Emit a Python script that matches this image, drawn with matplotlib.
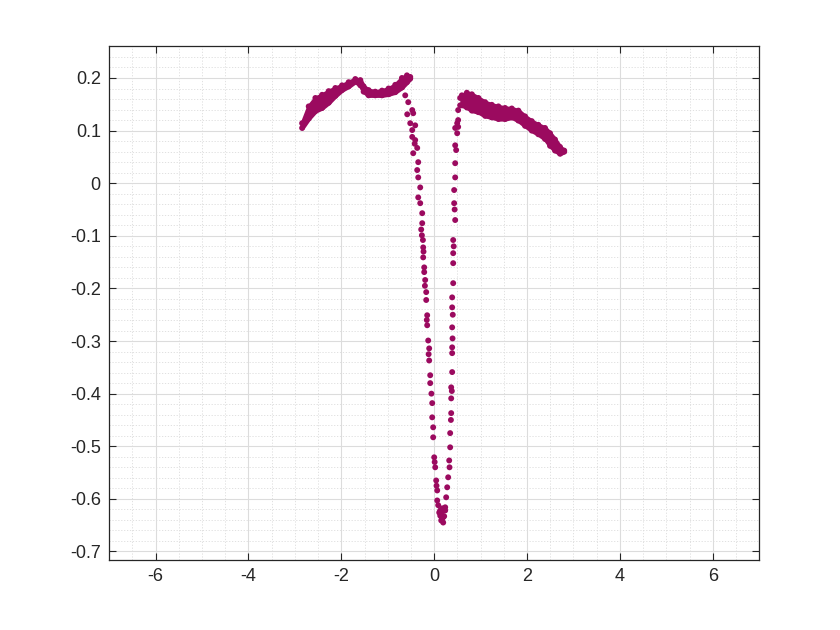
import numpy as np
import matplotlib
matplotlib.use("Agg")
import matplotlib.pyplot as plt
from matplotlib.ticker import MultipleLocator

# ---- data ----
# left dense band (column x, upper row y, lower row y)
left_band_x = [-2.845, -2.703, -2.559, -2.415, -2.273, -2.129, -1.985, -1.843, -1.699,
               -1.591, -1.520, -1.413, -1.269, -1.125, -0.983, -0.839, -0.695, -0.587,
               -0.516]
left_band_top = [0.114, 0.146, 0.162, 0.168, 0.175, 0.181, 0.186, 0.192, 0.198,
                 0.196, 0.184, 0.177, 0.174, 0.176, 0.180, 0.187, 0.200, 0.205,
                 0.202]
left_band_bot = [0.105, 0.123, 0.137, 0.143, 0.153, 0.166, 0.177, 0.184, 0.193,
                 0.186, 0.174, 0.167, 0.167, 0.167, 0.169, 0.173, 0.182, 0.192,
                 0.199]

# right dense band
right_band_x = [0.596, 0.703, 0.811, 0.953, 1.097, 1.241, 1.383, 1.527, 1.671, 1.813,
                1.957, 2.101, 2.243, 2.387, 2.495, 2.602, 2.710, 2.800]
right_band_top = [0.167, 0.172, 0.169, 0.162, 0.154, 0.149, 0.146, 0.143, 0.142, 0.138,
                  0.127, 0.118, 0.111, 0.105, 0.095, 0.083, 0.069, 0.062]
right_band_bot = [0.148, 0.144, 0.138, 0.135, 0.128, 0.125, 0.122, 0.122, 0.125, 0.119,
                  0.109, 0.100, 0.093, 0.084, 0.071, 0.062, 0.056, 0.060]

# descending branch (left side of the dip)
down_x = [-0.624, -0.559, -0.473, -0.581, -0.452, -0.516, -0.409, -0.473, -0.473, -0.409,
          -0.366, -0.452, -0.344, -0.366, -0.344, -0.301, -0.344, -0.301, -0.258, -0.258,
          -0.265, -0.243, -0.237, -0.237, -0.215, -0.215, -0.194, -0.172, -0.172, -0.151,
          -0.151, -0.129, -0.108, -0.108, -0.086, -0.086, -0.043, -0.043, -0.022, -0.022,
          0.000, 0.022, 0.043, 0.065, 0.065, 0.129, 0.172,
          -0.420, -0.280, -0.230, -0.200, -0.160, -0.120, -0.060, 0.010, 0.050]
down_y = [0.167, 0.154, 0.139, 0.131, 0.133, 0.114, 0.110, 0.101, 0.088, 0.082,
          0.067, 0.057, 0.040, 0.025, 0.011, -0.008, -0.027, -0.038, -0.057, -0.076,
          -0.099, -0.108, -0.122, -0.141, -0.160, -0.169, -0.184, -0.207, -0.222, -0.251,
          -0.270, -0.299, -0.314, -0.337, -0.365, -0.380, -0.418, -0.445, -0.464, -0.483,
          -0.521, -0.540, -0.565, -0.584, -0.603, -0.622, -0.637,
          0.075, -0.088, -0.130, -0.195, -0.260, -0.325, -0.400, -0.530, -0.575]

# cluster at the bottom of the dip
bottom_x = [0.086, 0.108, 0.151, 0.194, 0.215, 0.172, 0.237, 0.130, 0.160]
bottom_y = [-0.612, -0.626, -0.641, -0.645, -0.633, -0.618, -0.622, -0.632, -0.628]

# ascending branch (right side of the dip)
up_x = [0.194, 0.237, 0.258, 0.280, 0.301, 0.323, 0.344, 0.344, 0.366, 0.366,
        0.366, 0.387, 0.387, 0.387, 0.387, 0.387, 0.387, 0.409, 0.409, 0.409,
        0.409, 0.452, 0.430, 0.430, 0.452, 0.452, 0.473, 0.452, 0.495, 0.452,
        0.516, 0.495, 0.516, 0.516, 0.559, 0.559,
        0.330, 0.360, 0.380, 0.395, 0.400, 0.420, 0.440]
up_y = [-0.635, -0.616, -0.597, -0.578, -0.559, -0.527, -0.502, -0.475, -0.437, -0.409,
        -0.388, -0.359, -0.323, -0.312, -0.274, -0.236, -0.217, -0.190, -0.152, -0.133,
        -0.108, -0.070, -0.038, -0.013, 0.011, 0.038, 0.063, 0.072, 0.095, 0.105,
        0.107, 0.114, 0.120, 0.139, 0.148, 0.162,
        -0.540, -0.450, -0.395, -0.295, -0.250, -0.120, -0.050]

x_ticks = [-6, -4, -2, 0, 2, 4, 6]
y_ticks = [-0.7, -0.6, -0.5, -0.4, -0.3, -0.2, -0.1, 0, 0.1, 0.2]
x_labels = ['-6', '-4', '-2', '0', '2', '4', '6']
y_labels = ['-0.7', '-0.6', '-0.5', '-0.4', '-0.3', '-0.2', '-0.1', '0', '0.1', '0.2']

# ---- style ----
color = '#9B0A5F'
ink = '#262626'
plt.rcParams['font.family'] = ['Liberation Sans', 'DejaVu Sans']
plt.rcParams['axes.unicode_minus'] = False

fig = plt.figure(figsize=(8.4, 6.3), dpi=100)
ax = fig.add_axes([0.13, 0.1111, 0.7738, 0.8159])

ms = 18
ax.fill_between(left_band_x, left_band_bot, left_band_top, color=color, lw=3, zorder=3)
ax.fill_between(right_band_x, right_band_bot, right_band_top, color=color, lw=3, zorder=3)
for xs, ys in [(left_band_x, left_band_top), (left_band_x, left_band_bot),
               (right_band_x, right_band_top), (right_band_x, right_band_bot),
               (down_x, down_y), (bottom_x, bottom_y), (up_x, up_y)]:
    ax.scatter(xs, ys, s=ms, color=color, edgecolors='none', zorder=3)

ax.set_xlim(-7, 7)
ax.set_ylim(-0.7162, 0.2608)
ax.set_xticks(x_ticks)
ax.set_xticklabels(x_labels)
ax.set_yticks(y_ticks)
ax.set_yticklabels(y_labels)
ax.xaxis.set_minor_locator(MultipleLocator(0.5))
ax.yaxis.set_minor_locator(MultipleLocator(0.02))

ax.grid(True, which='major', color='#dcdcdc', lw=0.8, ls='-', zorder=0)
ax.grid(True, which='minor', color='#dcdcdc', lw=0.6, ls=(0, (1.5, 2)), zorder=0)
ax.set_axisbelow(True)

ax.tick_params(which='major', direction='in', length=5, width=0.8, color=ink,
               labelcolor=ink, labelsize=13, top=True, right=True, pad=6)
ax.tick_params(which='minor', length=0, top=True, right=True)
for sp in ax.spines.values():
    sp.set_color(ink)
    sp.set_linewidth(0.9)

fig.savefig('out.png', dpi=100)
